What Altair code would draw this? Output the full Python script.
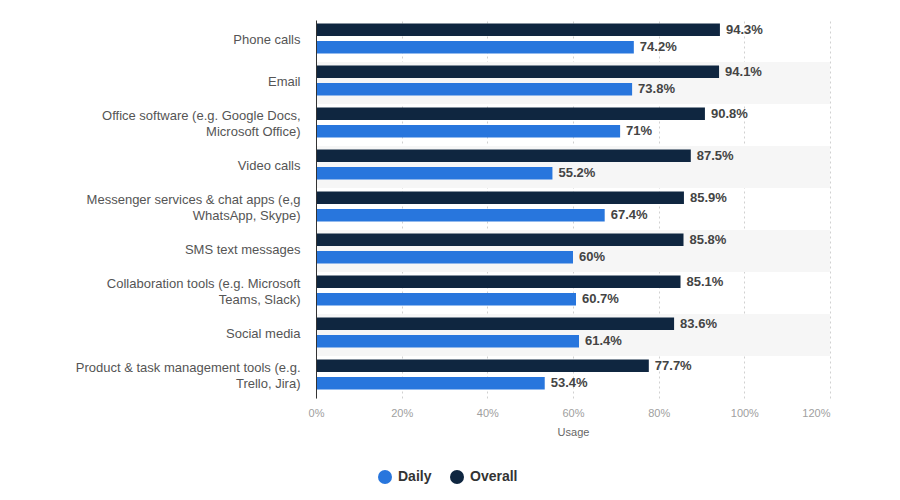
import altair as alt
import pandas as pd

categories = [
    "Phone calls",
    "Email",
    "Office software (e.g. Google Docs,\nMicrosoft Office)",
    "Video calls",
    "Messenger services & chat apps (e,g\nWhatsApp, Skype)",
    "SMS text messages",
    "Collaboration tools (e.g. Microsoft\nTeams, Slack)",
    "Social media",
    "Product & task management tools (e.g.\nTrello, Jira)",
]
overall = [94.3, 94.1, 90.8, 87.5, 85.9, 85.8, 85.1, 83.6, 77.7]
daily = [74.2, 73.8, 71.0, 55.2, 67.4, 60.0, 60.7, 61.4, 53.4]
series = ["Daily", "Overall"]
colors = ["#2876dd", "#0f2640"]
x_ticks = [0, 20, 40, 60, 80, 100, 120]

rows = []
for c, o, d in zip(categories, overall, daily):
    rows.append({"cat": c, "series": "Overall", "value": o})
    rows.append({"cat": c, "series": "Daily", "value": d})
df = pd.DataFrame(rows)
df["label"] = df["value"].map(lambda v: (f"{v:g}") + "%")

stripes = pd.DataFrame({"cat": categories[1::2], "x0": 0, "x1": 120})

FONT = "Liberation Sans"

y_enc = alt.Y(
    "cat:N",
    sort=categories,
    scale=alt.Scale(domain=categories, paddingInner=0, paddingOuter=0),
    axis=alt.Axis(
        title=None,
        labelExpr="split(datum.label, '\\n')",
        labelLineHeight=16,
        labelFontSize=13,
        labelColor="#555555",
        labelFont=FONT,
        labelPadding=16,
        labelLimit=320,
        labelOffset={"condition": {"test": "indexof(datum.value, '\\n') >= 0", "value": -9}, "value": -1},
        ticks=False,
        domain=True,
        domainColor="#333333",
        domainWidth=1,
        grid=False,
    ),
)

x_scale = alt.Scale(domain=[0, 120], nice=False)

stripe_layer = alt.Chart(stripes).mark_rect(color="#f6f6f6").encode(
    y=y_enc,
    x=alt.X("x0:Q", scale=x_scale,
            axis=alt.Axis(
                values=x_ticks,
                labelExpr="datum.value + '%'",
                title="Usage",
                titleFont=FONT,
                titleFontSize=11,
                titleFontWeight="normal",
                titleColor="#666666",
                titlePadding=8,
                labelFont=FONT,
                labelFontSize=11,
                labelColor="#a0a0a0",
                labelPadding=9,
                labelFlush=False,
                labelAlign={"condition": {"test": "datum.value >= 120", "value": "right"}, "value": "center"},
                ticks=False,
                domain=False,
                grid=True,
                gridColor="#d0d0d0",
                gridDash=[2, 3],
                gridWidth=1,
            )),
    x2="x1:Q",
)

yoff = alt.YOffset(
    "series:N",
    sort=["Overall", "Daily"],
    scale=alt.Scale(domain=["Overall", "Daily"], paddingInner=0.286, paddingOuter=0.343, align=0.3),
)

color_enc = alt.Color(
    "series:N",
    scale=alt.Scale(domain=series, range=colors),
    legend=alt.Legend(
        title=None,
        orient="none",
        direction="horizontal",
        legendX=62,
        legendY=450,
        symbolType="circle",
        symbolSize=196,
        symbolStrokeWidth=0,
        labelFont=FONT,
        labelFontSize=14,
        labelFontWeight="bold",
        labelColor="#333333",
        labelOffset=6,
        columnPadding=18,
    ),
)

bars = alt.Chart(df).mark_bar().encode(
    y=alt.Y("cat:N", sort=categories),
    yOffset=yoff,
    x=alt.X("value:Q", scale=x_scale),
    color=color_enc,
)

text = alt.Chart(df).mark_text(
    align="left", baseline="middle", dx=6, font=FONT, fontSize=13,
    fontWeight="bold", color="#444444"
).encode(
    y=alt.Y("cat:N", sort=categories),
    yOffset=yoff,
    x=alt.X("value:Q", scale=x_scale),
    text="label:N",
)

chart = alt.layer(stripe_layer, bars, text).properties(
    width=514,
    height=378,
    autosize=alt.AutoSizeParams(type="none"),
    padding={"left": 316, "top": 20, "right": 70, "bottom": 102},
    background="white",
).configure_view(stroke=None)

chart.save("out.html", embed_options={"renderer": "svg", "actions": False})
